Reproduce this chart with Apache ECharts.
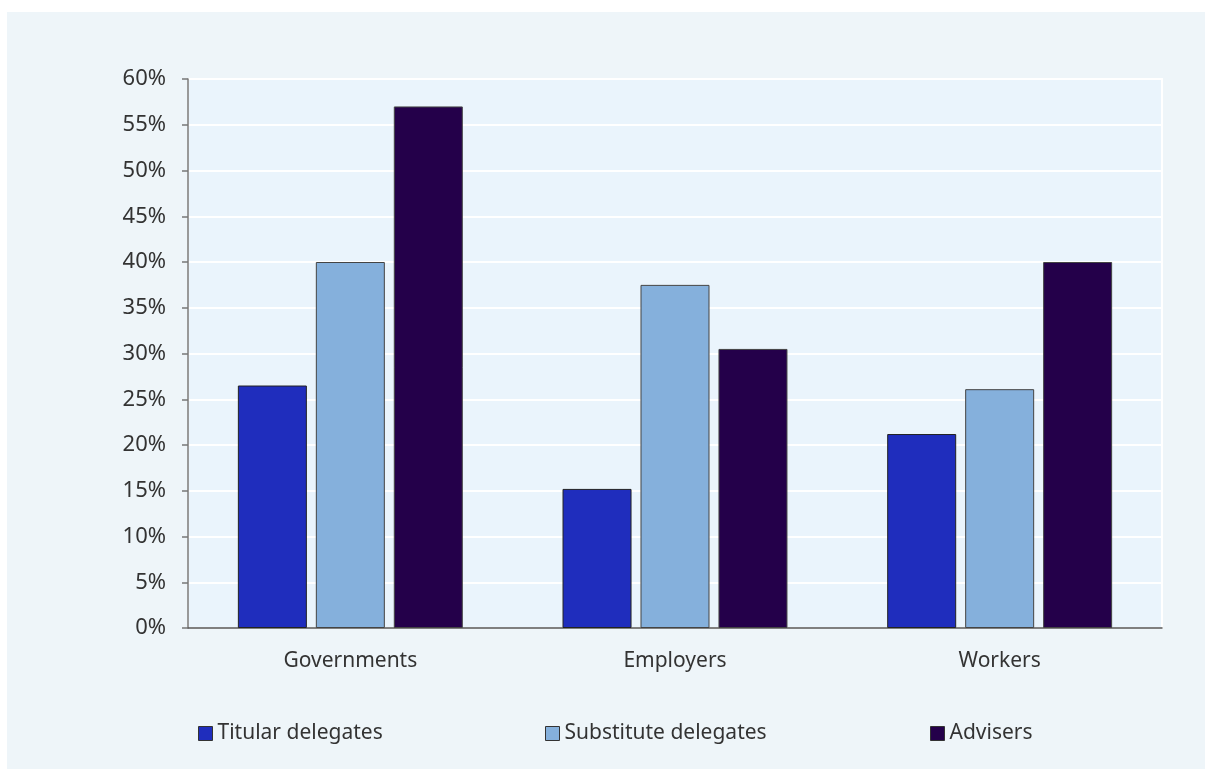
<!DOCTYPE html>
<html>
<head>
<meta charset="utf-8">
<script src="https://cdn.jsdelivr.net/npm/echarts@6/dist/echarts.min.js"></script>
<style>
  html, body { margin: 0; padding: 0; background: #ffffff; }
  #main { position: absolute; left: 7px; top: 12px; width: 1198px; height: 757px; background: #eef5f9; }
</style>
</head>
<body>
<div id="main"></div>
<script>
// chart values
var categories = ['Governments', 'Employers', 'Workers'];
var titular = [26.5, 15.2, 21.2];
var substitute = [40, 37.5, 26.1];
var advisers = [57, 30.5, 40];
var seriesNames = ['Titular delegates', 'Substitute delegates', 'Advisers'];
var colors = ['#1f2dbd', '#85b0dc', '#24004a'];

var font = 'Noto Sans';
var myChart = echarts.init(document.getElementById('main'));

function legendAt(name, left) {
	return {
		data: [name],
		left: left,
		top: 706,
		itemWidth: 14,
		itemHeight: 14,
		icon: 'rect',
		itemGap: 4,
		itemStyle: { borderColor: '#333', borderWidth: 1 },
		textStyle: { fontFamily: font, fontSize: 21, color: '#333' }
	};
}

var option = {
	backgroundColor: 'transparent',
	color: colors,
	legend: [
		legendAt(seriesNames[0], 186),
		legendAt(seriesNames[1], 533),
		legendAt(seriesNames[2], 918)
	],
	grid: {
		left: 181,
		top: 67,
		right: 43,
		bottom: 141,
		show: true,
		backgroundColor: '#eaf4fc',
		borderColor: '#ffffff',
		borderWidth: 2
	},
	xAxis: {
		type: 'category',
		data: categories,
		axisLine: { lineStyle: { color: '#555', width: 1.5 } },
		axisTick: { length: 6, lineStyle: { color: '#555', width: 1.5 } },
		axisLabel: { fontFamily: font, fontSize: 21, color: '#333', margin: 23 }
	},
	yAxis: {
		type: 'value',
		min: 0,
		max: 60,
		interval: 5,
		axisLine: { show: true, lineStyle: { color: '#777', width: 1.5 } },
		axisTick: { show: true, length: 6, lineStyle: { color: '#777', width: 1.5 } },
		axisLabel: { formatter: '{value}%', fontFamily: font, fontSize: 22, color: '#333', margin: 22 },
		splitLine: { lineStyle: { color: '#ffffff', width: 2 } }
	},
	series: [
		{ name: seriesNames[0], type: 'bar', data: titular, barWidth: 69, barGap: '13%',
		  itemStyle: { borderColor: '#222', borderWidth: 1 } },
		{ name: seriesNames[1], type: 'bar', data: substitute, barWidth: 69,
		  itemStyle: { borderColor: '#444', borderWidth: 1 } },
		{ name: seriesNames[2], type: 'bar', data: advisers, barWidth: 69,
		  itemStyle: { borderColor: '#444', borderWidth: 1 } }
	]
};

myChart.setOption(option);
</script>
</body>
</html>
